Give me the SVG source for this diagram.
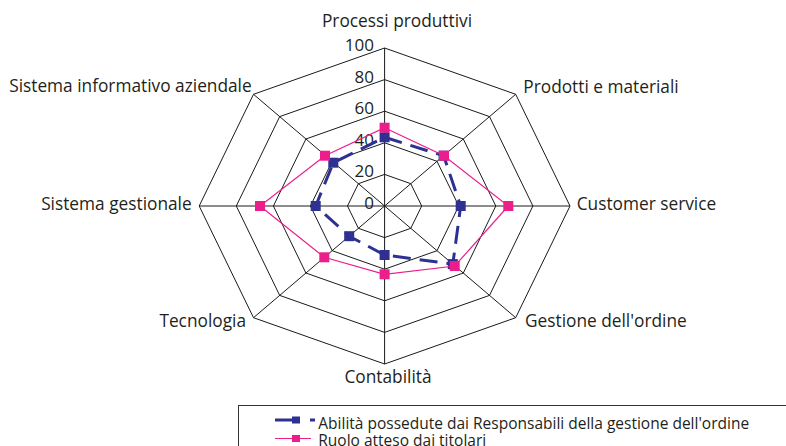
<svg xmlns="http://www.w3.org/2000/svg" width="786" height="446" viewBox="0 0 786 446">
<defs>
<style>
.grid{fill:none;stroke:#1a1a1a;stroke-width:1}
.lbl{font-family:"Open Sans","Liberation Sans",sans-serif;font-size:17.3px;fill:#231f20}
.leg{font-family:"Open Sans","Liberation Sans",sans-serif;font-size:15.5px;fill:#231f20}
.num{font-family:"Open Sans","Liberation Sans",sans-serif;font-size:17px;fill:#231f20;text-anchor:end}
.blue{fill:none;stroke:#2e3192;stroke-width:3;stroke-dasharray:18 9}
.pink{fill:none;stroke:#ec1e8c;stroke-width:1.2}
.bm{fill:#2e3192}
.pm{fill:#ec1e8c}
</style>
<rect id="mb" class="bm" x="-5" y="-5" width="10" height="10"/>
<rect id="mp" class="pm" x="-5" y="-5" width="10" height="10"/>
</defs>
<rect width="786" height="446" fill="#fff"/>
<g id="grid" class="grid">
<polygon points="384.6,48 515.7,94.3 570,206 515.7,317.7 384.6,364 253.5,317.7 199.2,206 253.5,94.3"/>
<polygon points="384.6,79.6 489.5,116.6 532.9,206 489.5,295.4 384.6,332.4 279.7,295.4 236.3,206 279.7,116.6"/>
<polygon points="384.6,111.2 463.3,139 495.8,206 463.3,273 384.6,300.8 305.9,273 273.4,206 305.9,139"/>
<polygon points="384.6,142.8 437,161.3 458.8,206 437,250.7 384.6,269.2 332.2,250.7 310.4,206 332.2,161.3"/>
<polygon points="384.6,174.4 410.8,183.7 421.7,206 410.8,228.3 384.6,237.6 358.4,228.3 347.5,206 358.4,183.7"/>
<path d="M384.6,48 L384.6,364 M515.7,94.3 L253.5,317.7 M570,206 L199.2,206 M515.7,317.7 L253.5,94.3"/>
</g>
<g id="scale">
<text class="num" x="374" y="51">100</text>
<text class="num" x="374" y="82.6">80</text>
<text class="num" x="374" y="114.2">60</text>
<text class="num" x="374" y="145.8">40</text>
<text class="num" x="374" y="177.4">20</text>
<text class="num" x="374" y="209">0</text>
</g>
<g id="axis-labels" class="lbl">
<text x="397" y="26.7" text-anchor="middle">Processi produttivi</text>
<text x="523.3" y="93">Prodotti e materiali</text>
<text x="576.7" y="210">Customer service</text>
<text x="525" y="326.7">Gestione dell'ordine</text>
<text x="388" y="382.7" text-anchor="middle">Contabilità</text>
<text x="246" y="326.7" text-anchor="end">Tecnologia</text>
<text x="191.7" y="210" text-anchor="end">Sistema gestionale</text>
<text x="251.7" y="91.7" text-anchor="end">Sistema informativo aziendale</text>
</g>
<g id="series-abilita">
<polygon class="blue" points="384.6,137.3 443.6,155.7 460.7,206 452.8,264.1 384.6,255 349.2,236.2 315.7,206 333.3,162.7"/>
<use href="#mb" x="384.6" y="137.3"/>
<use href="#mb" x="443.6" y="155.7"/>
<use href="#mb" x="460.7" y="206"/>
<use href="#mb" x="452.8" y="264.1"/>
<use href="#mb" x="384.6" y="255"/>
<use href="#mb" x="349.2" y="236.2"/>
<use href="#mb" x="315.7" y="206"/>
<use href="#mb" x="333.3" y="162.7"/>
</g>
<g id="series-ruolo">
<polygon class="pink" points="384.6,127.7 444,155.7 508.3,206 454.7,266 384.6,274.3 324.3,257.3 260,206 325,155.7"/>
<use href="#mp" x="384.6" y="127.7"/>
<use href="#mp" x="444" y="155.7"/>
<use href="#mp" x="508.3" y="206"/>
<use href="#mp" x="454.7" y="266"/>
<use href="#mp" x="384.6" y="274.3"/>
<use href="#mp" x="324.3" y="257.3"/>
<use href="#mp" x="260" y="206"/>
<use href="#mp" x="325" y="155.7"/>
</g>
<g id="legend">
<rect x="238.5" y="405.5" width="560" height="60" fill="none" stroke="#333" stroke-width="1"/>
<path d="M275,420 H292 M310,420 H315" stroke="#2e3192" stroke-width="3" fill="none"/>
<rect class="bm" x="292" y="416.5" width="8" height="7"/>
<path d="M275,438.5 H311" stroke="#ec1e8c" stroke-width="1.2" fill="none"/>
<rect class="pm" x="292" y="435" width="8" height="7"/>
<text class="leg" x="318.3" y="429">Abilità possedute dai Responsabili della gestione dell'ordine</text>
<text class="leg" x="318.3" y="445.5">Ruolo atteso dai titolari</text>
</g>
</svg>
